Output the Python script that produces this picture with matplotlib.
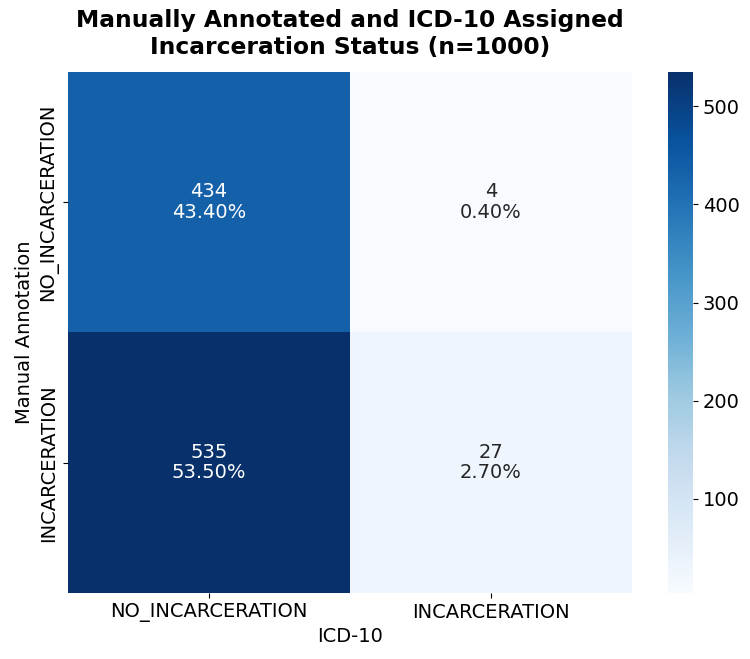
import numpy as np
import matplotlib
matplotlib.use("Agg")
import matplotlib.pyplot as plt
import seaborn as sns

row_labels = ["NO_INCARCERATION", "INCARCERATION"]
col_labels = ["NO_INCARCERATION", "INCARCERATION"]
counts = np.array([[434, 4], [535, 27]])
n_total = 1000

annot = np.array([[f"{c}\n{c / n_total * 100:.2f}%" for c in row] for row in counts])

fig = plt.figure(figsize=(7.5, 6.59), dpi=100)
ax = fig.add_axes([0.0907, 0.1002, 0.752, 0.7906])
cax = fig.add_axes([0.8907, 0.1002, 0.0333, 0.7906])
sns.heatmap(counts, annot=annot, fmt="", cmap="Blues", ax=ax, cbar_ax=cax,
            xticklabels=col_labels, yticklabels=row_labels,
            annot_kws={"fontsize": 14, "linespacing": 1.1})
ax.set_title("Manually Annotated and ICD-10 Assigned\nIncarceration Status (n=1000)",
             fontsize=16.8, fontweight="bold", pad=13, linespacing=1.2)
ax.set_xlabel("ICD-10", fontsize=14)
ax.set_ylabel("Manual Annotation", fontsize=14)
ax.tick_params(axis="x", labelsize=14)
ax.tick_params(axis="y", labelsize=14)
plt.setp(ax.get_yticklabels(), rotation=90, va="center")
cax.tick_params(labelsize=14)
fig.savefig("out.png", dpi=100)
